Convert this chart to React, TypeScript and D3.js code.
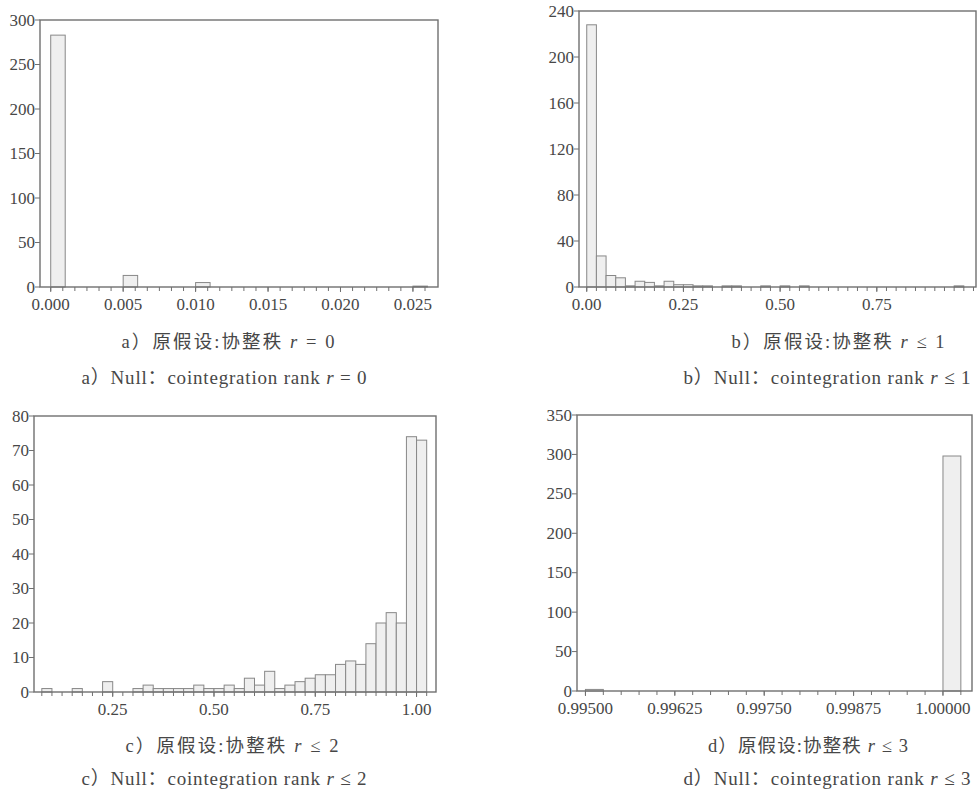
import React from "react";
import * as d3 from "d3";

// histogram counts (bin left edges + counts)
const binWidthA = 0.001;
const binLeftA = [0, 0.005, 0.01, 0.025];
const countsA = [283, 13, 5, 1];

const binWidthB = 0.025;
const binStartB = 0;
const countsB = [228, 27, 10, 8, 1, 5, 4, 1, 5, 2, 2, 1, 1, 0, 1, 1, 0, 0, 1, 0,
  1, 0, 1, 0, 0, 0, 0, 0, 0, 0, 0, 0, 0, 0, 0, 0, 0, 0, 1, 0];

const binWidthC = 0.025;
const binStartC = 0.075;
const countsC = [1, 0, 0, 1, 0, 0, 3, 0, 0, 1, 2, 1, 1, 1, 1, 2, 1, 1, 2, 1,
  4, 2, 6, 1, 2, 3, 4, 5, 5, 8, 9, 8, 14, 20, 23, 20, 74, 73];

const binWidthD = 0.00025;
const binLeftD = [0.995, 1.0];
const countsD = [2, 298];

const yTicksA = [0, 50, 100, 150, 200, 250, 300];
const yTicksB = [0, 40, 80, 120, 160, 200, 240];
const yTicksC = [0, 10, 20, 30, 40, 50, 60, 70, 80];
const yTicksD = [0, 50, 100, 150, 200, 250, 300, 350];

const xTicksA = [0, 0.005, 0.01, 0.015, 0.02, 0.025];
const xTicksB = [0, 0.25, 0.5, 0.75];
const xTicksC = [0.25, 0.5, 0.75, 1.0];
const xTicksD = [0.995, 0.99625, 0.9975, 0.99875, 1.0];

const captionsCn = ["a）原假设:协整秩 ", "b）原假设:协整秩 ", "c）原假设:协整秩 ", "d）原假设:协整秩 "];
const captionsEn = ["a）Null：cointegration rank ", "b）Null：cointegration rank ", "c）Null：cointegration rank ", "d）Null：cointegration rank "];
const captionTails = [" = 0", " ≤ 1", " ≤ 2", " ≤ 3"];

const SERIF = "'Liberation Serif', 'Times New Roman', 'DejaVu Serif', serif";
const CAPTION_FONT = "'Liberation Serif', 'Times New Roman', 'Noto Sans CJK SC', serif";
const TEXT = "#474747";
const LINE = "#707070";

type Bin = { x0: number; x1: number; n: number };

function fromLefts(lefts: number[], w: number, counts: number[]): Bin[] {
  return lefts.map((l, i) => ({ x0: l, x1: l + w, n: counts[i] }));
}
function fromStart(start: number, w: number, counts: number[]): Bin[] {
  return counts.map((n, i) => ({ x0: start + i * w, x1: start + (i + 1) * w, n }));
}

function Hist(props: {
  box: { x0: number; x1: number; y0: number; y1: number };
  xDomain: [number, number];
  yMax: number;
  bins: Bin[];
  yTicks: number[];
  xTicks: number[];
  minor: [number, number, number];
  fmt: string;
}) {
  const { box, xDomain, yMax, bins, yTicks, xTicks, minor, fmt } = props;
  const x = d3.scaleLinear().domain(xDomain).range([box.x0, box.x1]);
  const y = d3.scaleLinear().domain([0, yMax]).range([box.y1, box.y0]);
  const f = d3.format(fmt);
  const minorTicks = d3.range(minor[0], minor[1] + minor[2] / 2, minor[2]);
  return (
    <g>
      {bins.filter(b => b.n > 0).map((b, i) => (
        <rect key={i} x={x(b.x0)} y={y(b.n)} width={x(b.x1) - x(b.x0)}
          height={y(0) - y(b.n)} fill="#efefef" stroke="#888" strokeWidth={1} />
      ))}
      <rect x={box.x0} y={box.y0} width={box.x1 - box.x0} height={box.y1 - box.y0}
        fill="none" stroke={LINE} strokeWidth={1.4} />
      {yTicks.map(t => (
        <g key={"y" + t}>
          <line x1={box.x0 - 5} x2={box.x0} y1={y(t)} y2={y(t)} stroke={LINE} />
          <text x={box.x0 - 5} y={y(t)} dy="0.33em" textAnchor="end"
            fontSize={17} fill={TEXT} style={{ fontFamily: SERIF }}>{t}</text>
        </g>
      ))}
      {minorTicks.map((t, i) => (
        <line key={"m" + i} x1={x(t)} x2={x(t)} y1={box.y1} y2={box.y1 + 4} stroke={LINE} />
      ))}
      {xTicks.map(t => (
        <g key={"x" + t}>
          <line x1={x(t)} x2={x(t)} y1={box.y1} y2={box.y1 + 5} stroke={LINE} />
          <text x={x(t)} y={box.y1 + 23} textAnchor="middle"
            fontSize={17} fill={TEXT} style={{ fontFamily: SERIF }}>{f(t)}</text>
        </g>
      ))}
    </g>
  );
}

function Caption(props: { cx: number; y: number; head: string; tail: string; size: number; len: number }) {
  return (
    <text x={props.cx} y={props.y} textAnchor="middle" fontSize={props.size} fill={TEXT}
      textLength={props.len} lengthAdjust="spacing" style={{ fontFamily: CAPTION_FONT }}>
      {props.head}
      <tspan fontStyle="italic">r</tspan>
      {props.tail}
    </text>
  );
}

export default function App() {
  return (
    <svg width={979} height={791} style={{ position: "absolute", left: 0, top: 0, background: "#fff" }}>
      <Hist box={{ x0: 40, x1: 438, y0: 20, y1: 287 }} xDomain={[-0.00074, 0.02673]} yMax={300}
        bins={fromLefts(binLeftA, binWidthA, countsA)} yTicks={yTicksA} xTicks={xTicksA}
        minor={[0, 0.026, 0.005 / 6]} fmt=".3f" />
      <Hist box={{ x0: 579, x1: 976, y0: 11, y1: 287 }} xDomain={[-0.02, 1.0065]} yMax={240}
        bins={fromStart(binStartB, binWidthB, countsB)} yTicks={yTicksB} xTicks={xTicksB}
        minor={[0, 1.0, 0.025]} fmt=".2f" />
      <Hist box={{ x0: 34, x1: 436, y0: 416, y1: 692 }} xDomain={[0.0557, 1.048]} yMax={80}
        bins={fromStart(binStartC, binWidthC, countsC)} yTicks={yTicksC} xTicks={xTicksC}
        minor={[0.075, 1.025, 0.025]} fmt=".2f" />
      <Hist box={{ x0: 577, x1: 972, y0: 415, y1: 691 }} xDomain={[0.994882, 1.000406]} yMax={350}
        bins={fromLefts(binLeftD, binWidthD, countsD)} yTicks={yTicksD} xTicks={xTicksD}
        minor={[0.995, 1.00025, 0.00025]} fmt=".5f" />

      <Caption cx={228} y={348} head={captionsCn[0]} tail={captionTails[0]} size={18.5} len={213} />
      <Caption cx={224} y={384} head={captionsEn[0]} tail={captionTails[0]} size={19} len={285} />
      <Caption cx={838} y={348} head={captionsCn[1]} tail={captionTails[1]} size={18.5} len={213} />
      <Caption cx={827} y={384} head={captionsEn[1]} tail={captionTails[1]} size={19} len={287} />
      <Caption cx={232} y={752} head={captionsCn[2]} tail={captionTails[2]} size={18.5} len={213} />
      <Caption cx={224} y={785} head={captionsEn[2]} tail={captionTails[2]} size={19} len={285} />
      <Caption cx={808} y={752} head={captionsCn[3]} tail={captionTails[3]} size={18.5} len={200} />
      <Caption cx={827} y={785} head={captionsEn[3]} tail={captionTails[3]} size={19} len={287} />
    </svg>
  );
}
